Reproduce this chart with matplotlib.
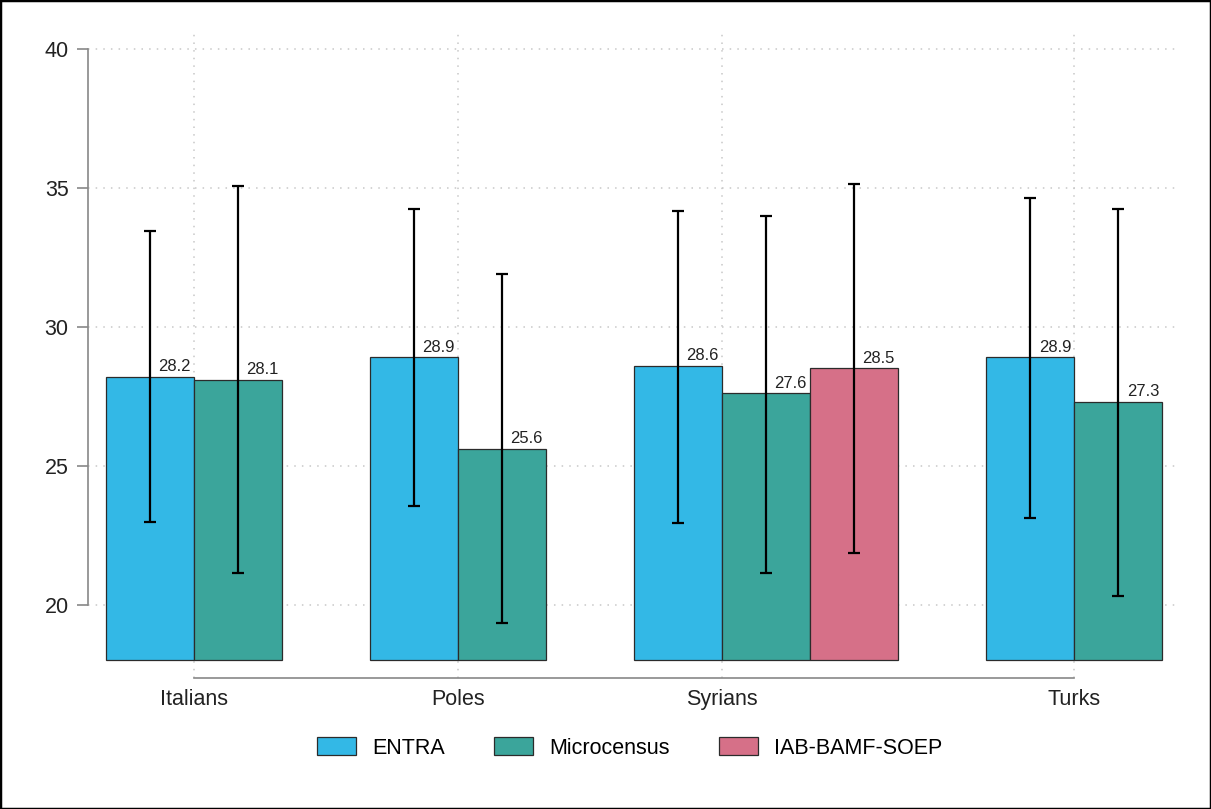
import matplotlib
matplotlib.use("Agg")
import matplotlib.pyplot as plt
from matplotlib.patches import Rectangle, Patch

plt.rcParams["font.family"] = ["Liberation Sans", "DejaVu Sans"]

# --- data ---------------------------------------------------------------
groups = ["Italians", "Poles", "Syrians", "Turks"]
sources = ["ENTRA", "Microcensus", "IAB-BAMF-SOEP"]

# bar x slots (one unit per bar, a gap between groups)
entra_x = [1, 4, 7, 11]
micro_x = [2, 5, 8, 12]
iab_x = [9]
group_x = [1.5, 4.5, 7.5, 11.5]

entra_mean = [28.2, 28.9, 28.6, 28.9]
entra_low = [22.98, 23.57, 22.93, 23.14]
entra_high = [33.46, 34.22, 34.16, 34.62]

micro_mean = [28.1, 25.6, 27.6, 27.3]
micro_low = [21.14, 19.34, 21.16, 20.30]
micro_high = [35.06, 31.88, 34.0, 34.23]

iab_mean = [28.5]
iab_low = [21.88]
iab_high = [35.14]

bar_base = 18
colors = ["#33B8E6", "#3BA59B", "#D67088"]
# ------------------------------------------------------------------------

fig = plt.figure(figsize=(12.11, 8.09), dpi=100)
ax = fig.add_axes([0.0727, 0.162, 0.9017, 0.7984])

series = [
    (entra_x, entra_mean, entra_low, entra_high, colors[0]),
    (micro_x, micro_mean, micro_low, micro_high, colors[1]),
    (iab_x, iab_mean, iab_low, iab_high, colors[2]),
]

for xs, mean, lo, hi, col in series:
    heights = [m - bar_base for m in mean]
    ax.bar(xs, heights, bottom=bar_base, width=1.0, color=col,
           edgecolor="#2b2b2b", linewidth=0.9, zorder=2)
    mid = [(l + h) / 2 for l, h in zip(lo, hi)]
    err = [[m - l for m, l in zip(mid, lo)], [h - m for m, h in zip(mid, hi)]]
    ax.errorbar(xs, mid, yerr=err, fmt="none", ecolor="black",
                elinewidth=1.6, capsize=4.3, capthick=1.6, zorder=3)
    for x, m in zip(xs, mean):
        ax.annotate(f"{m:.1f}", (x, m), xytext=(6, 2), textcoords="offset points",
                    ha="left", va="bottom", fontsize=12, color="#222222", zorder=4)

ax.set_xlim(0.3, 12.7)
ax.set_ylim(17.37, 40.6)

ax.set_yticks([20, 25, 30, 35, 40])
ax.set_xticks(group_x)
ax.set_xticklabels(groups)
ax.tick_params(axis="y", length=8, width=1.2, color="#888888", pad=6, labelsize=15.5,
               labelcolor="#222222")
ax.tick_params(axis="x", length=0, pad=8, labelsize=15.5, labelcolor="#222222")

for s in ["top", "right"]:
    ax.spines[s].set_visible(False)
ax.spines["left"].set_bounds(20, 40)
ax.spines["bottom"].set_bounds(group_x[0], group_x[-1])
for s in ["left", "bottom"]:
    ax.spines[s].set_color("#888888")
    ax.spines[s].set_linewidth(1.2)

ax.grid(True, color="#c8c8c8", linestyle=(0, (1, 4)), linewidth=1.1, zorder=0)
ax.set_axisbelow(True)

handles = [Patch(facecolor=c, edgecolor="#2b2b2b", linewidth=0.9) for c in colors]
fig.legend(handles, sources, loc="center", bbox_to_anchor=(0.52, 0.0754),
           ncol=3, frameon=False, fontsize=15.5, handlelength=1.8, handleheight=0.85,
           handletextpad=0.75, columnspacing=2.3)

fig.patches.append(Rectangle((0, 0), 1, 1, transform=fig.transFigure, fill=False,
                             edgecolor="black", linewidth=2.5, zorder=10))

fig.savefig("out.png", dpi=100)
